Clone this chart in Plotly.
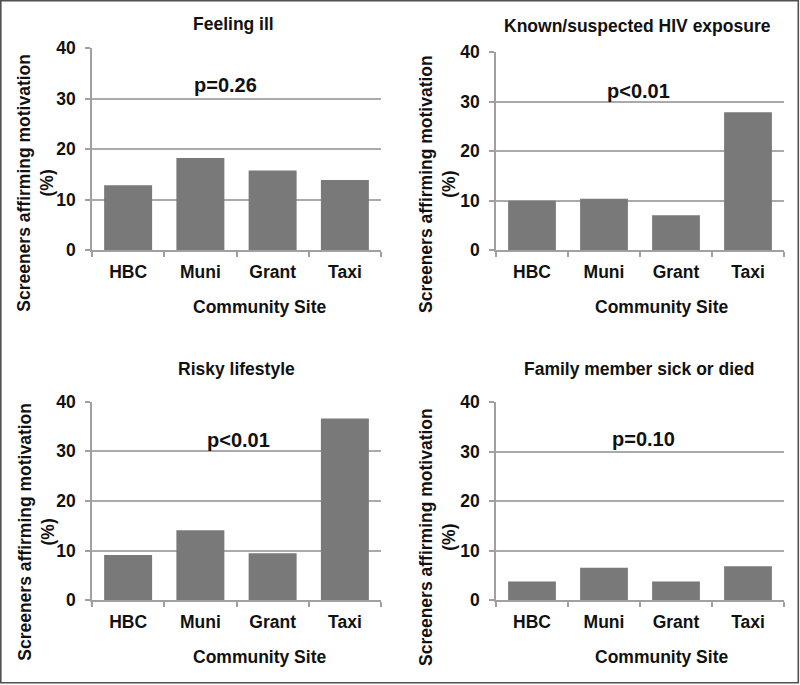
import plotly.graph_objects as go

W, H = 800, 685

sites = ["HBC", "Muni", "Grant", "Taxi"]
titles = ["Feeling ill", "Known/suspected HIV exposure", "Risky lifestyle", "Family member sick or died"]
p_labels = ["p=0.26", "p<0.01", "p<0.01", "p=0.10"]
feeling_ill = [12.9, 18.3, 15.8, 13.9]
hiv_exposure = [10.0, 10.4, 7.1, 27.9]
risky_lifestyle = [9.1, 14.1, 9.5, 36.6]
family_sick = [3.8, 6.6, 3.8, 6.9]
series = [feeling_ill, hiv_exposure, risky_lifestyle, family_sick]
y_ticks = [0, 10, 20, 30, 40]

# pixel geometry of each panel: (left, right, top, bottom)
panels = [(92, 381, 48.3, 250.3), (496, 784, 52.3, 250.3),
          (92, 381, 401.7, 600.3), (496, 784, 402.3, 600.3)]
title_pos = [(233, 23.5), (637.5, 25.5), (236, 368.5), (639.5, 368.5)]
p_pos = [(225, 84.5), (638, 91), (238, 440), (643, 439)]
xt_pos = [(259.5, 306.5), (661, 306.5), (259.5, 656.5), (661, 657)]
yt_pos = [(35.75, 183), (437, 184), (35.75, 532), (437, 537)]

def px(x):
    return x / W

def py(y):
    return 1 - y / H

FONT = "Liberation Sans, Arial, sans-serif"
BAR = "#797979"
GRID = "#aaaaaa"
AX = "#a0a0a0"

fig = go.Figure()
annotations = []
layout = {}
for i, (vals, (l, r, t, b)) in enumerate(zip(series, panels)):
    n = "" if i == 0 else str(i + 1)
    fig.add_trace(go.Bar(x=sites, y=vals, marker=dict(color=BAR, line=dict(width=0)),
                         xaxis="x" + n, yaxis="y" + n, showlegend=False))
    layout["xaxis" + n] = dict(domain=[px(l), px(r)], anchor="y" + n, showline=True,
                               linecolor=AX, linewidth=1.5, ticks="outside", tickson="boundaries",
                               ticklen=5, tickcolor=AX, tickwidth=1.5, showgrid=False,
                               tickfont=dict(size=17.5, color="#111"), ticklabelstandoff=5,
                               fixedrange=True, automargin=False)
    layout["yaxis" + n] = dict(domain=[py(b), py(t)], anchor="x" + n, range=[0, 40],
                               tickvals=y_ticks, showline=True, linecolor=AX, linewidth=1.5,
                               ticks="outside", ticklen=5, tickcolor=AX, tickwidth=1.5,
                               showgrid=True, gridcolor=GRID, gridwidth=1.5, zeroline=False,
                               tickfont=dict(size=17.5, color="#111"), ticklabelstandoff=6,
                               fixedrange=True, automargin=False)
    annotations.append(dict(text=titles[i], x=px(title_pos[i][0]), y=py(title_pos[i][1]),
                            xref="paper", yref="paper", showarrow=False,
                            xanchor="center", yanchor="middle", font=dict(size=17.5)))
    annotations.append(dict(text=p_labels[i], x=px(p_pos[i][0]), y=py(p_pos[i][1]),
                            xref="paper", yref="paper", showarrow=False,
                            xanchor="center", yanchor="middle", font=dict(size=20)))
    annotations.append(dict(text="Community Site", x=px(xt_pos[i][0]), y=py(xt_pos[i][1]),
                            xref="paper", yref="paper", showarrow=False,
                            xanchor="center", yanchor="middle", font=dict(size=17.5)))
    annotations.append(dict(text="Screeners affirming motivation<br>(%)", x=px(yt_pos[i][0]),
                            y=py(yt_pos[i][1]), xref="paper", yref="paper", showarrow=False,
                            textangle=-90, xanchor="center", yanchor="middle",
                            font=dict(size=17.5)))

fig.update_layout(**layout)
fig.update_layout(
    width=W, height=H, autosize=False,
    margin=dict(l=0, r=0, t=0, b=0, pad=0),
    paper_bgcolor="white", plot_bgcolor="white",
    font=dict(family=FONT, size=17.5, color="#111", weight="bold"),
    bargap=0.336,
    annotations=annotations,
    shapes=[dict(type="rect", xref="paper", yref="paper", x0=px(0.8), x1=px(798.3),
                 y0=py(682.8), y1=py(0.8), line=dict(color="#505050", width=1.6))],
)

fig.write_html("out.html", config={"displayModeBar": False, "responsive": False},
               post_script="document.body.style.margin='0';document.body.style.overflow='hidden';")
